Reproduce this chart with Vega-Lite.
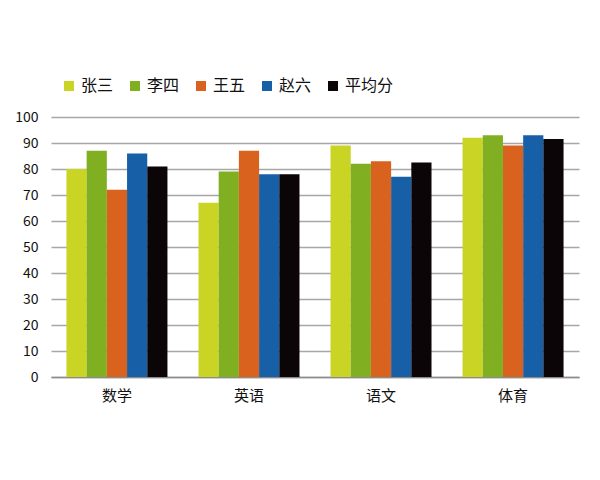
{
  "$schema": "https://vega.github.io/schema/vega-lite/v6.json",
  "width": 528,
  "height": 260,
  "autosize": {"type": "none"},
  "padding": {"left": 51, "top": 117, "right": 21, "bottom": 103},
  "background": "white",
  "config": {
    "font": "Noto Sans CJK SC",
    "view": {"stroke": null}
  },
  "data": {
    "values": [
      {"subject": "数学", "name": "张三", "score": 80},
      {"subject": "数学", "name": "李四", "score": 87},
      {"subject": "数学", "name": "王五", "score": 72},
      {"subject": "数学", "name": "赵六", "score": 86},
      {"subject": "数学", "name": "平均分", "score": 81},
      {"subject": "英语", "name": "张三", "score": 67},
      {"subject": "英语", "name": "李四", "score": 79},
      {"subject": "英语", "name": "王五", "score": 87},
      {"subject": "英语", "name": "赵六", "score": 78},
      {"subject": "英语", "name": "平均分", "score": 78},
      {"subject": "语文", "name": "张三", "score": 89},
      {"subject": "语文", "name": "李四", "score": 82},
      {"subject": "语文", "name": "王五", "score": 83},
      {"subject": "语文", "name": "赵六", "score": 77},
      {"subject": "语文", "name": "平均分", "score": 82.5},
      {"subject": "体育", "name": "张三", "score": 92},
      {"subject": "体育", "name": "李四", "score": 93},
      {"subject": "体育", "name": "王五", "score": 89},
      {"subject": "体育", "name": "赵六", "score": 93},
      {"subject": "体育", "name": "平均分", "score": 91.5}
    ]
  },
  "mark": {"type": "bar"},
  "encoding": {
    "x": {
      "field": "subject",
      "type": "nominal",
      "sort": ["数学", "英语", "语文", "体育"],
      "scale": {"paddingInner": 0.235, "paddingOuter": 0.117},
      "axis": {
        "title": null,
        "labelAngle": 0,
        "ticks": false,
        "labelPadding": 11,
        "labelFontSize": 15,
        "labelColor": "#111111",
        "domainColor": "#8c8c8c",
        "domainWidth": 1.5
      }
    },
    "xOffset": {
      "field": "name",
      "type": "nominal",
      "sort": ["张三", "李四", "王五", "赵六", "平均分"],
      "scale": {"paddingInner": 0, "paddingOuter": 0}
    },
    "y": {
      "field": "score",
      "type": "quantitative",
      "scale": {"domain": [0, 100], "nice": false},
      "axis": {
        "title": null,
        "values": [0, 10, 20, 30, 40, 50, 60, 70, 80, 90, 100],
        "ticks": false,
        "domain": false,
        "labelPadding": 13,
        "labelFontSize": 14,
        "labelColor": "#111111",
        "gridColor": "#a6a6a6",
        "gridWidth": 1.5
      }
    },
    "color": {
      "field": "name",
      "type": "nominal",
      "sort": ["张三", "李四", "王五", "赵六", "平均分"],
      "scale": {
        "domain": ["张三", "李四", "王五", "赵六", "平均分"],
        "range": ["#c9d424", "#80b021", "#d9621e", "#175fa6", "#0b0508"]
      },
      "legend": {
        "title": null,
        "orient": "none",
        "direction": "horizontal",
        "columns": 5,
        "legendX": 10,
        "legendY": -39,
        "symbolType": "square",
        "symbolSize": 100,
        "symbolStrokeWidth": 0,
        "symbolOpacity": 1,
        "labelFontSize": 16,
        "labelColor": "#111111",
        "labelOffset": 4,
        "columnPadding": 13
      }
    }
  }
}
